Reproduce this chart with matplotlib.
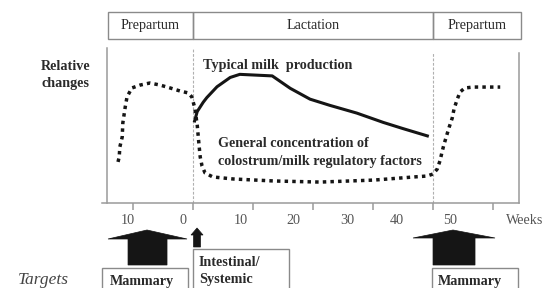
import matplotlib
matplotlib.use("Agg")
import matplotlib.pyplot as plt
from matplotlib.patches import Polygon, Rectangle
from matplotlib.transforms import blended_transform_factory

# ---------------- data (weeks relative to calving, relative level 0-100) ----------------
milk_weeks = [0.2, 0.7, 1.7, 2.3, 4.0, 6.2, 7.8, 13.2, 16.2, 19.5, 22.8, 27.3, 31.7, 35.0, 39.3]
milk_level = [52, 59, 65, 68, 75, 81, 83, 82, 74, 67, 63, 58, 52, 48, 43]

factor_weeks = [-12.5, -12.3, -12.2, -11.8, -11.7, -11.3, -11.0, -10.2, -8.8, -7.2, -5.5, -3.8,
                -2.2, -0.8, -0.2, 0.3, 0.7, 1.0, 1.2, 1.5, 2.0, 3.3, 6.7, 13.5, 21.2, 30.2,
                36.8, 39.0, 40.0, 40.7, 41.2, 41.5, 41.8, 42.3, 42.7, 43.2, 43.5, 44.0, 44.5,
                45.3, 46.7, 51.2]
factor_level = [26.5, 29.7, 36.1, 42.6, 51.6, 61.9, 68.4, 74.2, 76.1, 77.4, 76.1, 74.2,
                72.3, 71.0, 68.4, 61.3, 50.3, 37.4, 29.7, 23.9, 19.4, 16.8, 15.5, 14.2, 13.5, 14.8,
                16.8, 17.4, 18.7, 21.9, 27.7, 32.9, 37.4, 43.9, 49.0, 54.8, 60.6, 66.5, 71.6,
                74.2, 74.8, 74.8]

tick_weeks = [-10, 0, 10, 20, 30, 40, 50]
tick_label_weeks = [-10.8, -1.7, 8.0, 16.7, 25.7, 34.0, 42.8]
tick_labels = ["10", "0", "10", "20", "30", "40", "50"]

phase_edges = [-14.17, 0, 40, 54.67]
phase_names = ["Prepartum", "Lactation", "Prepartum"]

calving_week = 0
dry_week = 40

# ---------------- figure ----------------
W, H = 548, 288
fig = plt.figure(figsize=(W / 100, H / 100), dpi=100)
SERIF = ["Liberation Serif", "DejaVu Serif"]
plt.rcParams["font.family"] = SERIF
FS = 10.2

def fy(py):
    return 1 - py / H

def fx(px):
    return px / W

TXT = "#2a2a2a"
GRAY = "#9a9a9a"
INK = "#151515"

ax = fig.add_axes([fx(102), fy(203), fx(519) - fx(102), fy(48) - fy(203)])
ax.set_xlim(-15.17, 54.33)
ax.set_ylim(0, 100)
ax.spines["top"].set_visible(False)
ax.spines["left"].set_position(("data", -14.33))
for s in ["left", "right", "bottom"]:
    ax.spines[s].set_color(GRAY)
    ax.spines[s].set_linewidth(1.1)
ax.spines["right"].set_bounds(0, 96.8)
ax.set_yticks([])
ax.set_xticks(tick_weeks)
ax.set_xticklabels([""] * len(tick_weeks))
ax.tick_params(axis="x", direction="out", length=5, width=1.1, color=GRAY)

# dashed phase boundaries
ax.plot([calving_week, calving_week], [0, 100], color="#b0b0b0", lw=0.8, ls=(0, (2.5, 1.5)))
ax.plot([dry_week, dry_week], [0, 96.8], color="#b0b0b0", lw=0.8, ls=(0, (2.5, 1.5)))

# curves
ax.plot(milk_weeks, milk_level, color=INK, lw=2.2, solid_capstyle="butt", solid_joinstyle="round")
ax.plot(factor_weeks, factor_level, color=INK, lw=2.5, ls=(0, (1, 1.2)), dash_capstyle="butt")

# tick labels (offset from ticks, as in the original)
bt = blended_transform_factory(ax.transData, fig.transFigure)
for w, lab in zip(tick_label_weeks, tick_labels):
    ax.text(w, fy(220), lab, transform=bt, ha="center", va="center", fontsize=FS, color="#555555")
ax.text((525 - 193) / 6, fy(220), "Weeks", transform=bt, ha="center", va="center",
        fontsize=FS, color="#555555")

# in-plot labels
ax.text(1.67, 89, "Typical milk  production", ha="left", va="center", fontsize=FS,
        fontweight="bold", color=TXT)
ax.text(4.17, 38.7, "General concentration of", ha="left", va="center", fontsize=FS,
        fontweight="bold", color=TXT)
ax.text(4.17, 26.5, "colostrum/milk regulatory factors", ha="left", va="center", fontsize=FS,
        fontweight="bold", color=TXT)

fig.text(fx(41), fy(66), "Relative", ha="left", va="center", fontsize=FS, fontweight="bold", color=TXT)
fig.text(fx(41), fy(83), "changes", ha="left", va="center", fontsize=FS, fontweight="bold", color=TXT)

# phase band on top
for i, name in enumerate(phase_names):
    x0, x1 = phase_edges[i], phase_edges[i + 1]
    r = Rectangle((x0, fy(39)), x1 - x0, fy(12) - fy(39), transform=bt, fill=False,
                  edgecolor="#8a8a8a", lw=1.0, clip_on=False)
    ax.add_patch(r)
    ax.text((x0 + x1) / 2, fy(25.5), name, transform=bt, ha="center", va="center",
            fontsize=FS, color=TXT)

# target arrows
def wk(px):
    return (px - 193) / 6

def block_arrow(xl, xr, sl, sr, apex_x, apex_y, base_y, bottom_y):
    verts = [(wk(xl), fy(base_y)), (wk(apex_x), fy(apex_y)), (wk(xr), fy(base_y)),
             (wk(sr), fy(base_y)), (wk(sr), fy(bottom_y)), (wk(sl), fy(bottom_y)),
             (wk(sl), fy(base_y))]
    ax.add_patch(Polygon(verts, closed=True, transform=bt, facecolor=INK, edgecolor=INK,
                         lw=0.5, clip_on=False))

block_arrow(108, 187, 128, 167, 147, 230, 239, 265)
block_arrow(191, 203, 193.5, 200.5, 197, 228, 235, 247)
block_arrow(413, 495, 433, 475, 453, 230, 238, 265)

# target boxes
def box(xl, xr, top):
    ax.add_patch(Rectangle((wk(xl), fy(300)), wk(xr) - wk(xl), fy(top) - fy(300), transform=bt,
                           fill=False, edgecolor="#8a8a8a", lw=1.0, clip_on=False))

box(102, 188, 268)
box(193, 289, 249)
box(432, 518, 268)

ax.text(wk(110), fy(282), "Mammary", transform=bt, ha="left", va="center", fontsize=FS,
        fontweight="bold", color=TXT)
ax.text(wk(438), fy(282), "Mammary", transform=bt, ha="left", va="center", fontsize=FS,
        fontweight="bold", color=TXT)
ax.text(wk(199), fy(262), "Intestinal/", transform=bt, ha="left", va="center", fontsize=FS,
        fontweight="bold", color=TXT)
ax.text(wk(199), fy(280), "Systemic", transform=bt, ha="left", va="center", fontsize=FS,
        fontweight="bold", color=TXT)

fig.text(fx(18), fy(280), "Targets", ha="left", va="center", fontsize=12.5, style="italic",
         color="#444444")

fig.savefig("out.png", dpi=100)
